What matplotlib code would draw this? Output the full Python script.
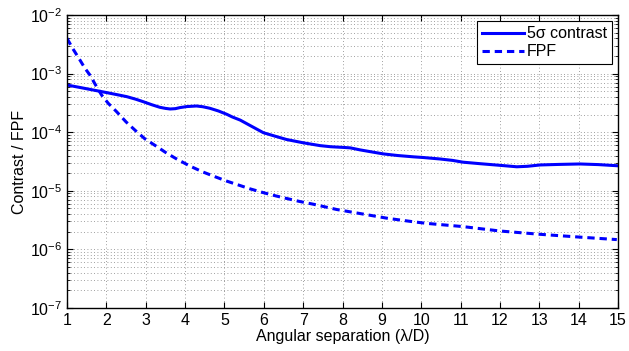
import matplotlib
matplotlib.use("Agg")
import matplotlib.pyplot as plt
import numpy as np
from matplotlib.ticker import LogLocator, FixedLocator, NullFormatter

plt.rcParams['font.family'] = ['Liberation Sans', 'DejaVu Sans']
plt.rcParams['mathtext.fontset'] = 'custom'
plt.rcParams['mathtext.rm'] = 'Liberation Sans'
plt.rcParams['mathtext.it'] = 'Liberation Sans'

sep_contrast = [1.0, 1.3, 1.67, 2.0, 2.25, 2.52, 2.75, 2.94, 3.15, 3.36, 3.5, 3.62, 3.75, 3.87,
                4.05, 4.29, 4.45, 4.63, 4.85, 5.06, 5.2, 5.4, 5.7, 5.99, 6.3, 6.58, 7.0,
                7.43, 7.7, 8.02, 8.2, 8.44, 8.75, 9.04, 9.4, 9.8, 10.05, 10.48, 10.8,
                11.06, 11.5, 12.0, 12.43, 12.7, 13.02, 13.5, 14.03, 14.5, 14.97]
contrast = [6.38e-4, 5.85e-4, 5.24e-4, 4.75e-4, 4.4e-4, 4.04e-4, 3.65e-4, 3.31e-4, 2.95e-4,
            2.66e-4, 2.55e-4, 2.49e-4, 2.52e-4, 2.63e-4, 2.74e-4, 2.80e-4, 2.72e-4, 2.56e-4,
            2.3e-4, 2.02e-4, 1.82e-4, 1.61e-4, 1.25e-4, 9.8e-5, 8.5e-5, 7.5e-5, 6.6e-5,
            5.9e-5, 5.65e-5, 5.5e-5, 5.4e-5, 5.0e-5, 4.6e-5, 4.26e-5, 4.0e-5, 3.8e-5,
            3.7e-5, 3.49e-5, 3.3e-5, 3.08e-5, 2.9e-5, 2.72e-5, 2.57e-5, 2.62e-5, 2.76e-5,
            2.82e-5, 2.87e-5, 2.8e-5, 2.68e-5]

sep_fpf = [1.0, 1.15, 1.33, 1.45, 1.58, 1.72, 1.88, 2.05, 2.26, 2.5, 2.75, 2.98, 3.28, 3.53,
           3.8, 4.12, 4.45, 4.76, 5.05, 5.35, 5.65, 5.99, 6.3, 6.58, 6.9, 7.26, 7.85, 8.53,
           9.16, 9.8, 10.14, 11.06, 12.0, 13.02, 14.03, 14.97]
fpf = [4.0e-3, 2.65e-3, 1.7e-3, 1.25e-3, 9.5e-4, 6.5e-4, 4.3e-4, 3.1e-4, 2.24e-4, 1.5e-4,
       1.05e-4, 7.7e-5, 5.7e-5, 4.4e-5, 3.45e-5, 2.65e-5, 2.1e-5, 1.74e-5, 1.47e-5,
       1.26e-5, 1.08e-5, 9.3e-6, 8.2e-6, 7.4e-6, 6.6e-6, 5.9e-6, 4.8e-6, 4.0e-6,
       3.38e-6, 2.96e-6, 2.78e-6, 2.45e-6, 2.06e-6, 1.81e-6, 1.62e-6, 1.47e-6]

x_ticks = list(range(1, 16))
y_ticks = [1e-7, 1e-6, 1e-5, 1e-4, 1e-3, 1e-2]

fs = 11.5
fig = plt.figure(figsize=(6.29, 3.51), dpi=100)
ax = fig.add_axes([67/629, 1 - 308/351, (618-67)/629, (308-15)/351])

ax.plot(sep_contrast, contrast, '-', color=(0, 0, 1), lw=2.2, label='5σ contrast',
        solid_joinstyle='round')
ax.plot(sep_fpf, fpf, '--', color=(0, 0, 1), lw=2.2, dashes=(2.4, 1.6), label='FPF')

ax.set_yscale('log')
ax.set_xlim(1, 15)
ax.set_ylim(1e-7, 1e-2)
ax.xaxis.set_major_locator(FixedLocator(x_ticks))
ax.yaxis.set_major_locator(FixedLocator(y_ticks))
ax.yaxis.set_minor_locator(LogLocator(base=10, subs=np.arange(2, 10)))
ax.yaxis.set_minor_formatter(NullFormatter())
ax.set_yticklabels([r'$10^{%d}$' % int(np.log10(v)) for v in y_ticks])

ax.grid(True, which='major', axis='both', linestyle=(0, (1, 3)), color='#808080', lw=0.6)
ax.grid(True, which='minor', axis='y', linestyle=(0, (1, 3)), color='#808080', lw=0.6)

ax.tick_params(which='both', direction='in', top=True, right=True, labelsize=fs)
ax.tick_params(which='major', length=4, width=0.8)
ax.tick_params(which='minor', length=2.5, width=0.6)
for s in ax.spines.values():
    s.set_linewidth(1.0)

ax.set_xlabel('Angular separation (λ/D)', fontsize=fs, labelpad=1)
ax.set_ylabel('Contrast / FPF', fontsize=fs, labelpad=2)

leg = ax.legend(loc='upper right', fontsize=fs, fancybox=False, edgecolor='black',
                framealpha=1, borderpad=0.3, handlelength=2.6, handletextpad=0.2,
                labelspacing=0.2, borderaxespad=0.4)
leg.get_frame().set_linewidth(0.8)

fig.savefig('out.png', dpi=100)
